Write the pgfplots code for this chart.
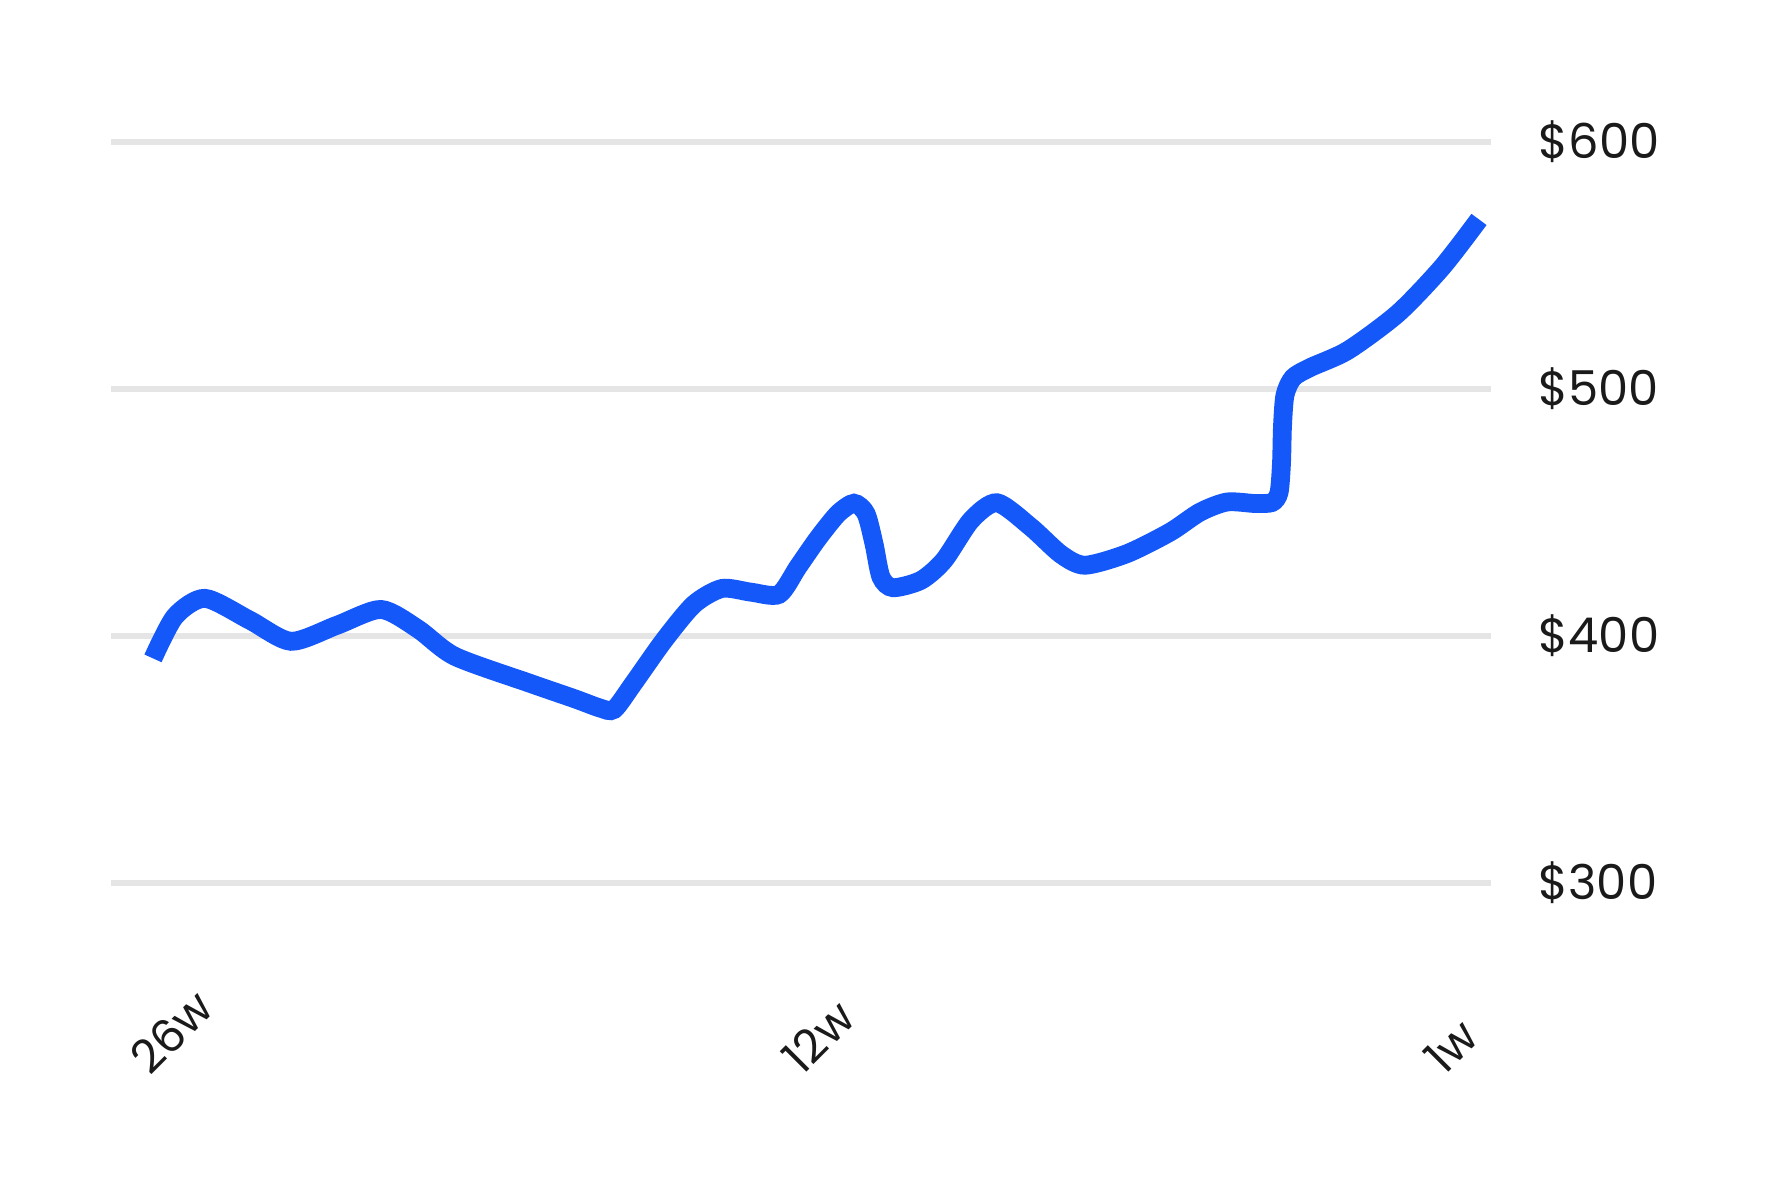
\documentclass[border=0pt]{standalone}
\usepackage{pgfplots}
\pgfplotsset{compat=1.18}
\usepackage{fontspec}
\setmainfont{Poppins}
\definecolor{lineblue}{RGB}{21,88,250}
\definecolor{gridgray}{RGB}{229,229,229}
\definecolor{txt}{RGB}{26,26,26}
\begin{document}
\begin{tikzpicture}
\begin{axis}[
  scale only axis,
  width=345pt, height=296.25pt,
  xmin=111, xmax=1491,
  ymin=177.53, ymax=657.29,
  clip=false,
  axis line style={draw=none},
  ytick={300,400,500,600},
  yticklabels={\$300,\$400,\$500,\$600},
  ymajorgrids,
  grid style={gridgray, line width=1.6pt},
  major tick length=0pt,
  yticklabel pos=right,
  yticklabel style={anchor=west, inner sep=0pt, xshift=11.75pt, font=\fontsize{12}{13}\selectfont, text=txt},
  xtick={150,802,1444},
  xticklabels={26w,12w,1w},
  xticklabel shift=-27pt,
  xticklabel style={rotate=45, anchor=base west, inner sep=0pt, font=\fontsize{11.5}{12.5}\selectfont, text=txt},
]
\path (axis cs:0,177.53) rectangle (axis cs:1776,657.29);
\addplot[lineblue, line width=4.7pt, smooth, tension=0.45] coordinates {
(153,390.9) (175,407.9) (205,415.2) (250,406.3) (291,397.8) (337,404.3)
(381,410.7) (418,402.8) (455,391.7) (530,380.8) (575,374.5) (600,370.8)
(614,370.2) (633,380.5) (664,398.2) (694,412.8) (722,419.2) (751,417.7) (779,416.8)
(798,427.9) (818,439.5) (838,449.5) (854,453.7) (866,449.5) (874,437.3)
(881,423.8) (893,419.5) (921,422.5) (944,430.6) (971,446.8) (997,453.9)
(1031,444.0) (1061,433.0) (1085,428.6) (1127,433.3) (1170,442.0) (1200,450.1)
(1227,454.2) (1255,453.6) (1272,454.0) (1279,458.0) (1281.5,470.0) (1282.5,485.0)
(1285,497.5) (1293,504.5) (1310,508.6) (1348,515.6) (1398,530.6)
(1442,549.2) (1479,568.6)
};
\end{axis}
\end{tikzpicture}
\end{document}
